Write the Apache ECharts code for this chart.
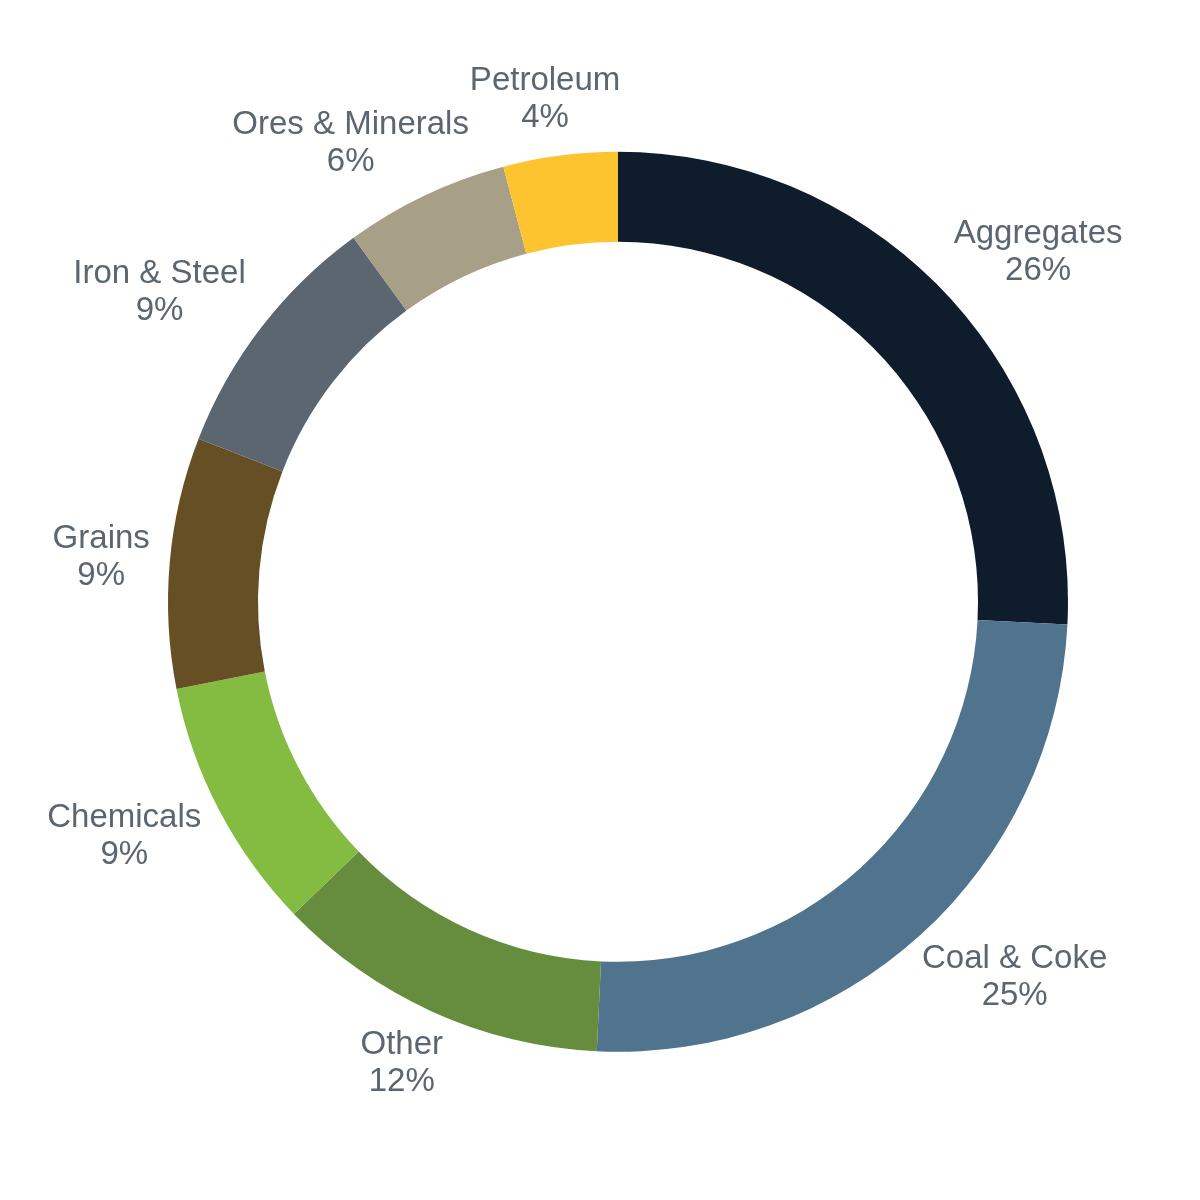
<!DOCTYPE html>
<html>
<head>
<meta charset="utf-8">
<script src="https://cdn.jsdelivr.net/npm/echarts@6/dist/echarts.min.js"></script>
<style>
  html, body { margin: 0; padding: 0; background: #fff; }
  #chart-container { width: 1200px; height: 1200px; }
</style>
</head>
<body>
<div id="chart-container"></div>
<script>
// 品項與比例（順時針，從 12 點鐘方向開始），數值從圖上量出，標籤顯示四捨五入
const categories = ['Aggregates', 'Coal & Coke', 'Other', 'Chemicals', 'Grains', 'Iron & Steel', 'Ores & Minerals', 'Petroleum'];
const shares = [25.8, 24.95, 12.05, 9.1, 9.0, 9.1, 5.9, 4.1];
const sliceColors = ['#0f1c2c', '#50748d', '#668d3d', '#84bc41', '#664f25', '#5b6670', '#a79f86', '#fec42f'];

function renderChart() {
  var dom = document.getElementById('chart-container');
  var myChart = echarts.init(dom, null, { renderer: 'canvas' });

  const total = shares.reduce((a, b) => a + b, 0);
  const cx = 1200 * 0.515;
  const cy = 1200 * 0.5015;
  const anchorR = 470;

  const data = categories.map((name, i) => ({
    name: name,
    value: shares[i],
    itemStyle: { color: sliceColors[i] }
  }));

  // 扇形中線角度（從 12 點鐘順時針算）
  function midAngle(idx) {
    let before = 0;
    for (let i = 0; i < idx; i++) before += shares[i];
    return (before + shares[idx] / 2) / total * Math.PI * 2;
  }

  const option = {
    backgroundColor: '#ffffff',
    animation: false,
    series: [
      {
        type: 'pie',
        center: ['51.5%', '50.15%'],
        radius: ['60%', '75%'],
        startAngle: 90,
        clockwise: true,
        data: data,
        itemStyle: { borderWidth: 0 },
        label: {
          show: true,
          position: 'outside',
          formatter: function (p) {
            return p.name + '\n' + Math.round(p.value) + '%';
          },
          color: '#5b6670',
          fontFamily: 'Liberation Sans, Arial, sans-serif',
          fontSize: 33,
          lineHeight: 37
        },
        labelLine: { show: false },
        // 標籤置中，往外推開文字框的一半
        labelLayout: function (params) {
          const a = midAngle(params.dataIndex);
          const s = Math.sin(a);
          const c = Math.cos(a);
          const w = params.labelRect.width;
          const h = params.labelRect.height;
          const k = Math.min(1, Math.abs(s) * 1.3) * Math.sign(s);
          return {
            x: cx + anchorR * s + k * w / 2,
            y: cy - anchorR * c - c * h / 2,
            align: 'center',
            verticalAlign: 'middle'
          };
        },
        emphasis: { disabled: true }
      }
    ]
  };

  myChart.setOption(option);
  window.addEventListener('resize', myChart.resize);
}
renderChart();
</script>
</body>
</html>
